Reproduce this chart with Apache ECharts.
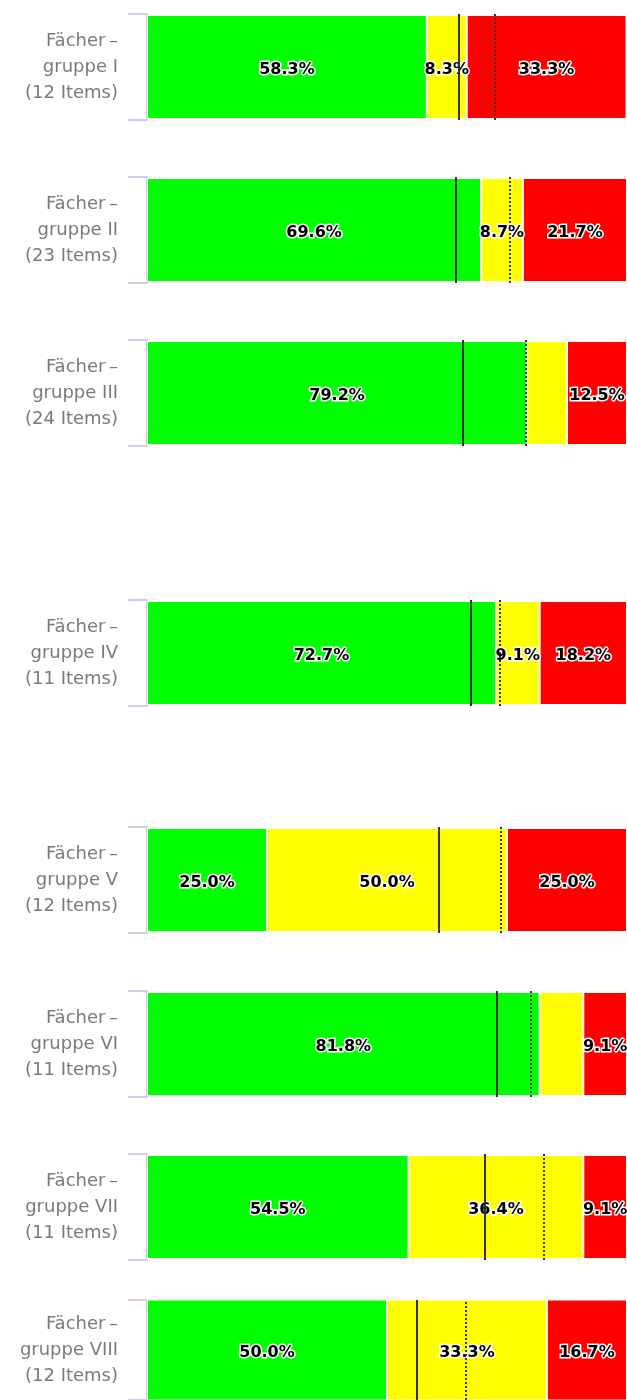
<!DOCTYPE html>
<html>
<head>
<meta charset="utf-8">
<script src="https://cdn.jsdelivr.net/npm/echarts@6/dist/echarts.min.js"></script>
<style>
  html, body { margin: 0; padding: 0; background: #fff; }
  #chart { width: 627px; height: 1400px; }
</style>
</head>
<body>
<div id="chart"></div>
<script>
// Fächergruppen und Anzahl Items
const groups = ['I', 'II', 'III', 'IV', 'V', 'VI', 'VII', 'VIII'];
const itemCounts = [12, 23, 24, 11, 12, 11, 11, 12];

// Anteile in % (grün / gelb / rot)
const greenShare = [58.3, 69.6, 79.2, 72.7, 25.0, 81.8, 54.5, 50.0];
const yellowShare = [8.3, 8.7, 8.3, 9.1, 50.0, 9.1, 36.4, 33.3];
const redShare = [33.3, 21.7, 12.5, 18.2, 25.0, 9.1, 9.1, 16.7];

// Markierungen (durchgezogen / gepunktet), in %
const solidMarks = [64.9, 64.4, 65.7, 67.4, 60.7, 72.8, 70.3, 56.1];
const dottedMarks = [72.4, 75.5, 78.9, 73.4, 73.8, 79.9, 82.6, 66.5];

// welche gelben Beschriftungen sichtbar sind
const yellowLabelShown = [true, true, false, true, true, false, true, true];

// Layout je Gruppe
const gridTops = [14, 177, 340, 600, 827, 991, 1154, 1300];
const gridHeight = 106;

const chart = echarts.init(document.getElementById('chart'));

const valueLabel = {
    show: true,
    position: 'inside',
    offset: [0, 3],
    formatter: p => p.value.toFixed(1) + '%',
    color: '#000',
    fontFamily: 'DejaVu Sans',
    fontWeight: 'bold',
    fontSize: 16,
    textBorderColor: '#fff',
    textBorderWidth: 3,
};

let grid = [], xAxis = [], yAxis = [], series = [];

groups.forEach((g, i) => {
    grid.push({ left: 147, width: 480, top: gridTops[i], height: gridHeight });
    xAxis.push({ gridIndex: i, type: 'value', min: 0, max: 100, show: false });
    yAxis.push({
        gridIndex: i,
        type: 'category',
        data: ['Fächer\u2009–\ngruppe ' + g + '\n(' + itemCounts[i] + ' Items)'],
        axisLine: { show: true, lineStyle: { color: '#c8d2e6', width: 2 } },
        axisTick: { show: true, length: 19, lineStyle: { color: '#c8d2e6', width: 2 } },
        axisLabel: {
            color: '#7a7a7a',
            fontFamily: 'DejaVu Sans',
            fontSize: 18,
            lineHeight: 26,
            margin: 29,
            align: 'right',
        },
    });

    const base = {
        type: 'bar',
        stack: 'g' + i,
        xAxisIndex: i,
        yAxisIndex: i,
        barWidth: 104,
        label: valueLabel,
    };

    series.push(Object.assign({}, base, {
        name: 'grün',
        data: [greenShare[i]],
        itemStyle: { color: '#00ff00', borderColor: '#fff', borderWidth: 1 },
        markLine: {
            silent: true,
            symbol: ['none', 'none'],
            label: { show: false },
            z: 10,
            data: [
                { xAxis: solidMarks[i], lineStyle: { type: 'solid', color: '#333', width: 2 } },
                { xAxis: dottedMarks[i], lineStyle: { type: 'dotted', color: '#333', width: 2 } },
            ],
        },
    }));
    series.push(Object.assign({}, base, {
        name: 'gelb',
        data: [yellowShare[i]],
        itemStyle: { color: '#ffff00', borderColor: '#fff', borderWidth: 1 },
        label: Object.assign({}, valueLabel, { show: yellowLabelShown[i] }),
    }));
    series.push(Object.assign({}, base, {
        name: 'rot',
        data: [redShare[i]],
        itemStyle: { color: '#ff0000', borderColor: '#fff', borderWidth: 1 },
    }));
});

chart.setOption({
    animation: false,
    backgroundColor: '#fff',
    grid,
    xAxis,
    yAxis,
    series,
});
</script>
</body>
</html>
